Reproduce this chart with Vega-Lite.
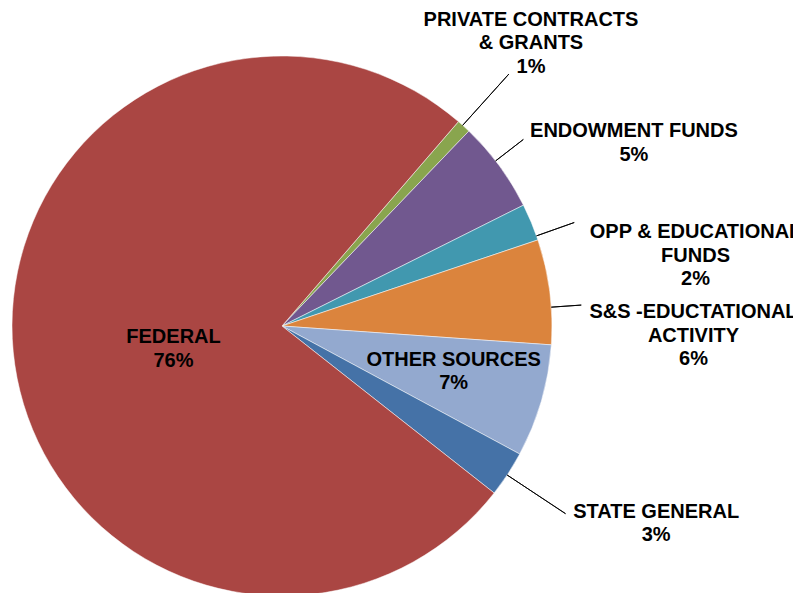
{
  "$schema": "https://vega.github.io/schema/vega-lite/v6.json",
  "width": 564,
  "height": 534,
  "autosize": "none",
  "padding": {"left": 0, "top": 59, "right": 229, "bottom": 0},
  "background": "#ffffff",
  "config": {
    "view": {"stroke": null},
    "text": {"font": "Liberation Sans", "fontWeight": "bold", "fontSize": 20, "lineHeight": 23.3, "lineBreak": "\n", "align": "center", "baseline": "middle", "color": "#000000"}
  },
  "data": {
    "values": [
      {"label": "PRIVATE CONTRACTS\n& GRANTS", "value": 0.0083, "ord": 1},
      {"label": "ENDOWMENT FUNDS", "value": 0.0545, "ord": 2},
      {"label": "OPP & EDUCATIONAL\nFUNDS", "value": 0.0222, "ord": 3},
      {"label": "S&S -EDUCTATIONAL\nACTIVITY", "value": 0.0628, "ord": 4},
      {"label": "OTHER SOURCES", "value": 0.0675, "ord": 5},
      {"label": "STATE GENERAL", "value": 0.0275, "ord": 6},
      {"label": "FEDERAL", "value": 0.7572, "ord": 7}
    ]
  },
  "transform": [
    {"calculate": "datum.label + '\\n' + format(datum.value, '.0%')", "as": "txt"},
    {"stack": "value", "groupby": [], "sort": [{"field": "ord", "order": "ascending"}], "as": ["v0", "v1"]}
  ],
  "encoding": {
    "theta": {"field": "value", "type": "quantitative", "stack": true, "scale": {"domain": [0, 1], "range": [0.71209, 6.99528]}},
    "order": {"field": "ord", "type": "quantitative"}
  },
  "layer": [
    {
      "mark": {"type": "arc", "outerRadius": 270, "stroke": "#ffffff", "strokeWidth": 0.5},
      "encoding": {
        "color": {
          "field": "label", "type": "nominal", "legend": null,
          "scale": {
            "domain": ["PRIVATE CONTRACTS\n& GRANTS", "ENDOWMENT FUNDS", "OPP & EDUCATIONAL\nFUNDS", "S&S -EDUCTATIONAL\nACTIVITY", "OTHER SOURCES", "STATE GENERAL", "FEDERAL"],
            "range": ["#89A54E", "#71588F", "#4198AF", "#DB843D", "#93A9CF", "#4572A7", "#AA4643"]
          }
        }
      }
    },
    {
      "transform": [{"filter": "datum.ord == 1"}],
      "mark": {"type": "arc", "innerRadius": 270, "outerRadius": 339, "thetaOffset": 0.02094, "theta2Offset": 0.02094, "fill": null, "stroke": "#000000", "strokeWidth": 0.9},
      "encoding": {
        "theta": {"field": "v0", "type": "quantitative", "stack": null, "scale": {"domain": [0, 1], "range": [0.71209, 6.99528]}},
        "theta2": {"field": "v0"}
      }
    },
    {
      "transform": [{"filter": "datum.ord == 2"}],
      "mark": {"type": "arc", "innerRadius": 270, "outerRadius": 305, "thetaOffset": 0.14856, "theta2Offset": 0.14856, "fill": null, "stroke": "#000000", "strokeWidth": 0.9},
      "encoding": {
        "theta": {"field": "v0", "type": "quantitative", "stack": null, "scale": {"domain": [0, 1], "range": [0.71209, 6.99528]}},
        "theta2": {"field": "v0"}
      }
    },
    {
      "transform": [{"filter": "datum.ord == 3"}],
      "mark": {"type": "arc", "innerRadius": 270, "outerRadius": 310, "thetaOffset": 0.12378, "theta2Offset": 0.12378, "fill": null, "stroke": "#000000", "strokeWidth": 0.9},
      "encoding": {
        "theta": {"field": "v0", "type": "quantitative", "stack": null, "scale": {"domain": [0, 1], "range": [0.71209, 6.99528]}},
        "theta2": {"field": "v0"}
      }
    },
    {
      "transform": [{"filter": "datum.ord == 4"}],
      "mark": {"type": "arc", "innerRadius": 270, "outerRadius": 300, "thetaOffset": 0.25482, "theta2Offset": 0.25482, "fill": null, "stroke": "#000000", "strokeWidth": 0.9},
      "encoding": {
        "theta": {"field": "v0", "type": "quantitative", "stack": null, "scale": {"domain": [0, 1], "range": [0.71209, 6.99528]}},
        "theta2": {"field": "v0"}
      }
    },
    {
      "transform": [{"filter": "datum.ord == 6"}],
      "mark": {"type": "arc", "innerRadius": 270, "outerRadius": 340, "thetaOffset": 0.09062, "theta2Offset": 0.09062, "fill": null, "stroke": "#000000", "strokeWidth": 0.9},
      "encoding": {
        "theta": {"field": "v0", "type": "quantitative", "stack": null, "scale": {"domain": [0, 1], "range": [0.71209, 6.99528]}},
        "theta2": {"field": "v0"}
      }
    },
    {
      "mark": {"type": "text", "radius": 378, "dx": -5.4, "dy": -26.4},
      "encoding": {"text": {"condition": {"test": "datum.ord == 1", "field": "txt"}, "value": ""}}
    },
    {
      "mark": {"type": "text", "radius": 398, "dx": 31.6, "dy": 41.5},
      "encoding": {"text": {"condition": {"test": "datum.ord == 2", "field": "txt"}, "value": ""}}
    },
    {
      "mark": {"type": "text", "radius": 420, "dx": 25.8, "dy": 67.7},
      "encoding": {"text": {"condition": {"test": "datum.ord == 3", "field": "txt"}, "value": ""}}
    },
    {
      "mark": {"type": "text", "radius": 412, "dx": 2.8, "dy": 38.7},
      "encoding": {"text": {"condition": {"test": "datum.ord == 4", "field": "txt"}, "value": ""}}
    },
    {
      "mark": {"type": "text", "radius": 178, "dx": 0.7, "dy": -15.5},
      "encoding": {"text": {"condition": {"test": "datum.ord == 5", "field": "txt"}, "value": ""}}
    },
    {
      "mark": {"type": "text", "radius": 422, "dx": 21.3, "dy": -45.7},
      "encoding": {"text": {"condition": {"test": "datum.ord == 6", "field": "txt"}, "value": ""}}
    },
    {
      "mark": {"type": "text", "radius": 111, "dx": 2, "dy": 0.7},
      "encoding": {"text": {"condition": {"test": "datum.ord == 7", "field": "txt"}, "value": ""}}
    }
  ]
}
